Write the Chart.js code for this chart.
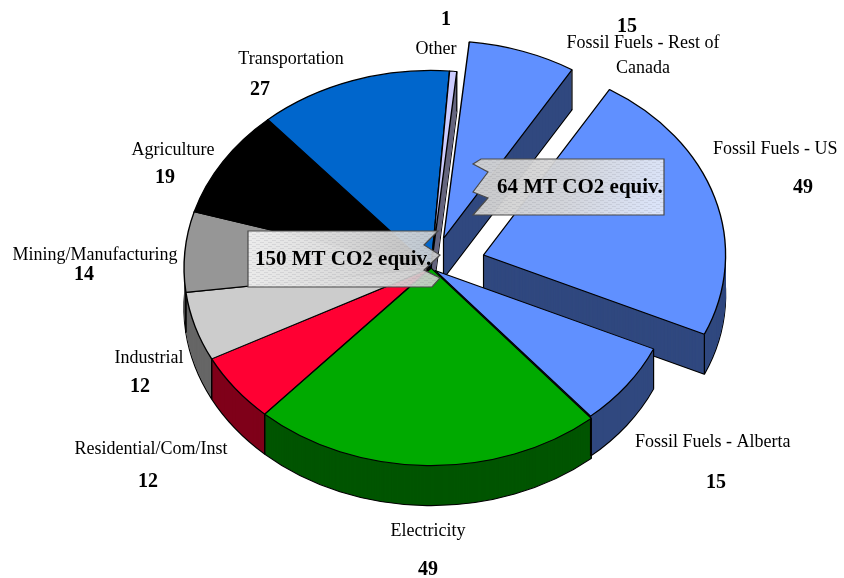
<!DOCTYPE html>
<html>
<head>
<meta charset="utf-8">
<title>GHG emissions by sector</title>
<script src="https://cdn.jsdelivr.net/npm/chart.js@4"></script>
<style>
    html, body { margin: 0; padding: 0; background: #fff; }
    #wrap { position: relative; width: 844px; height: 578px; }
</style>
</head>
<body>
<div id="wrap"><canvas id="pie"></canvas></div>
<script>
// Emissions by sector, clockwise from just right of twelve o'clock
const categories = ['Fossil Fuels - Rest of Canada', 'Fossil Fuels - US', 'Fossil Fuels - Alberta', 'Electricity',
    'Residential/Com/Inst', 'Industrial', 'Mining/Manufacturing', 'Agriculture', 'Transportation', 'Other'];
const values = [15, 49, 15, 49, 12, 12, 14, 19, 27, 1];
const colors = ['#6090ff', '#6090ff', '#6090ff', '#00aa00', '#ff0033', '#cccccc', '#969696', '#000000', '#0066cc', '#ccccff'];
const callouts = ['64 MT CO2 equiv.', '150 MT CO2 equiv.'];

// How far each slice is pulled out, and its radius factor
const pullOut = [39, 55, 5, 0, 0, 0, 0, 0, 0, 0];
const radiusFactor = [1, 0.98, 0.97, 1, 1, 1, 1, 1, 1, 1];

// Label placement: [category x, category y, value x, value y, align]
const labelSpots = [
    [643, 48, 627, 32, 'center'],
    [713, 154, 803, 193, 'left'],
    [635, 447, 716, 488, 'left'],
    [428, 536, 428, 575, 'center'],
    [151, 454, 148, 487, 'center'],
    [149, 363, 140, 392, 'center'],
    [95, 260, 84, 280, 'center'],
    [173, 155, 165, 183, 'center'],
    [291, 64, 260, 95, 'center'],
    [436, 54, 446, 25, 'center']
];

const TILT = 0.8;
const DEPTH = 40;
const SERIF = '"Liberation Serif", "Times New Roman", serif';

function darken(hex) {
    const n = parseInt(hex.slice(1), 16);
    const r = (n >> 16) >> 1, g = ((n >> 8) & 255) >> 1, b = (n & 255) >> 1;
    return `rgb(${r},${g},${b})`;
}

// Places one slice on the tilted plane, lowered by dy
function withSlice(ctx, arc, i, dy, fn) {
    const mid = (arc.startAngle + arc.endAngle) / 2;
    ctx.save();
    ctx.translate(arc.x, arc.y + dy);
    ctx.scale(radiusFactor[i], TILT * radiusFactor[i]);
    ctx.translate(Math.cos(mid) * pullOut[i] / radiusFactor[i], Math.sin(mid) * pullOut[i] / radiusFactor[i]);
    ctx.translate(-arc.x, -arc.y);
    fn();
    ctx.restore();
}

function drawWithOptions(ctx, arc, opts) {
    const saved = arc.options;
    arc.options = Object.assign({}, saved, opts);
    arc.draw(ctx);
    arc.options = saved;
}

// Vertical edges of the side wall at the apex and both rim corners
function drawCorners(ctx, arc, i) {
    const mid = (arc.startAngle + arc.endAngle) / 2;
    const k = radiusFactor[i];
    const ox = arc.x + Math.cos(mid) * pullOut[i];
    const oy = arc.y + Math.sin(mid) * pullOut[i] * TILT;
    const r = arc.outerRadius * k;
    const pts = [[ox, oy]];
    [arc.startAngle, arc.endAngle].forEach(a => {
        pts.push([ox + Math.cos(a) * r, oy + Math.sin(a) * r * TILT]);
    });
    ctx.strokeStyle = '#000';
    ctx.lineWidth = 1.2;
    pts.forEach(p => {
        ctx.beginPath();
        ctx.moveTo(p[0], p[1]);
        ctx.lineTo(p[0], p[1] + DEPTH);
        ctx.stroke();
    });
}

const tiltedPie = {
    id: 'tiltedPie',
    beforeDatasetsDraw(chart) {
        const ctx = chart.ctx;
        const arcs = chart.getDatasetMeta(0).data;

        arcs.forEach((arc, i) => withSlice(ctx, arc, i, DEPTH, () => {
            drawWithOptions(ctx, arc, { backgroundColor: darken(colors[i]), borderColor: '#000', borderWidth: 1.4 });
        }));
        for (let dy = DEPTH - 1; dy > 0; dy--) {
            arcs.forEach((arc, i) => withSlice(ctx, arc, i, dy, () => {
                drawWithOptions(ctx, arc, { backgroundColor: darken(colors[i]), borderWidth: 0 });
            }));
        }
        arcs.forEach((arc, i) => drawCorners(ctx, arc, i));
        arcs.forEach((arc, i) => withSlice(ctx, arc, i, 0, () => arc.draw(ctx)));
        return false;
    },
    afterDraw(chart) {
        const ctx = chart.ctx;
        drawCallout(ctx, callouts[0], 497, 193,
            [[481, 159], [664, 159], [664, 215], [473, 215], [488, 198], [473, 192], [488, 172], [473, 164]],
            ['rgba(205,205,205,0.97)', 'rgba(216,216,216,0.95)', 'rgba(236,240,250,0.88)']);
        drawCallout(ctx, callouts[1], 255, 265,
            [[248, 231], [438, 231], [424, 245], [440, 255], [424, 270], [440, 278], [432, 287], [248, 287]],
            ['rgba(238,238,238,0.98)', 'rgba(222,222,222,0.96)', 'rgba(205,205,205,0.9)']);
        drawLabels(ctx);
    }
};

// Thin diagonal dashes laid over the banner gradient
function hatchPattern(ctx) {
    const tile = document.createElement('canvas');
    tile.width = 8;
    tile.height = 4;
    const t = tile.getContext('2d');
    t.fillStyle = 'rgba(120,120,130,0.16)';
    t.fillRect(0, 0, 4, 1);
    t.fillRect(4, 2, 4, 1);
    return ctx.createPattern(tile, 'repeat');
}

function drawCallout(ctx, text, tx, ty, outline, stops) {
    const xs = outline.map(p => p[0]);
    const ys = outline.map(p => p[1]);
    ctx.save();
    ctx.beginPath();
    outline.forEach((p, i) => i ? ctx.lineTo(p[0], p[1]) : ctx.moveTo(p[0], p[1]));
    ctx.closePath();
    const grad = ctx.createLinearGradient(Math.min(...xs), Math.min(...ys), Math.max(...xs), Math.max(...ys));
    stops.forEach((c, i) => grad.addColorStop(i / (stops.length - 1), c));
    ctx.fillStyle = grad;
    ctx.fill();
    ctx.fillStyle = hatchPattern(ctx);
    ctx.fill();
    ctx.strokeStyle = '#4a4a4a';
    ctx.lineWidth = 1.2;
    ctx.stroke();
    ctx.fillStyle = '#000';
    ctx.font = 'bold 21px ' + SERIF;
    ctx.textAlign = 'left';
    ctx.textBaseline = 'alphabetic';
    ctx.fillText(text, tx, ty);
    ctx.restore();
}

function drawLabels(ctx) {
    ctx.save();
    ctx.fillStyle = '#000';
    ctx.textBaseline = 'alphabetic';
    categories.forEach((name, i) => {
        const s = labelSpots[i];
        ctx.textAlign = s[4];
        ctx.font = '18px ' + SERIF;
        if (i === 0) {
            ctx.fillText('Fossil Fuels - Rest of', s[0], s[1]);
            ctx.fillText('Canada', s[0], s[1] + 25);
        } else {
            ctx.fillText(name, s[0], s[1]);
        }
        ctx.textAlign = 'center';
        ctx.font = 'bold 20px ' + SERIF;
        ctx.fillText(String(values[i]), s[2], s[3]);
    });
    ctx.restore();
}

new Chart(document.getElementById('pie'), {
    type: 'pie',
    data: {
        labels: categories,
        datasets: [{
            data: values,
            backgroundColor: colors,
            borderColor: '#000',
            borderWidth: 1.4,
            borderAlign: 'center'
        }]
    },
    options: {
        responsive: true,
        maintainAspectRatio: false,
        animation: false,
        rotation: 6,
        radius: 247,
        // shifts the pie centre to 431,268
        layout: { padding: { left: 18, bottom: 42 } },
        plugins: { legend: { display: false }, tooltip: { enabled: false } }
    },
    plugins: [tiltedPie]
});
</script>
</body>
</html>
